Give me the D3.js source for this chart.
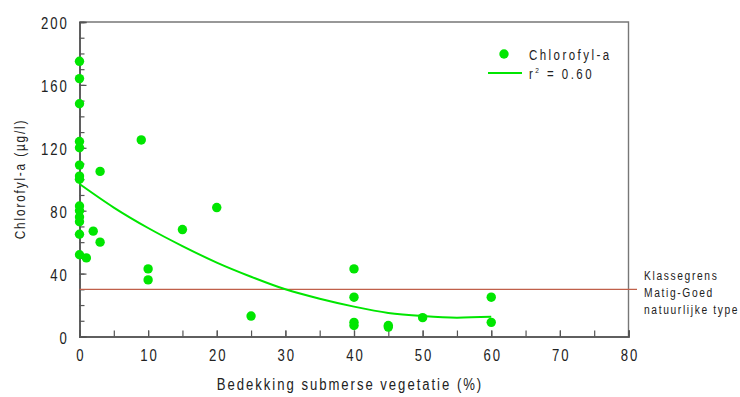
<!DOCTYPE html>
<html>
<head>
<meta charset="utf-8">
<script src="https://cdn.jsdelivr.net/npm/d3@7"></script>
<style>
  html, body { margin: 0; padding: 0; background: #fff; }
  svg { display: block; }
  text { font-family: "Liberation Sans", Arial, sans-serif; fill: #222; }
</style>
</head>
<body>
<svg id="chart" width="740" height="397"></svg>
<script>
// Vegetation cover (%) per lake and measured chlorophyll-a (µg/l)
const coverPct = [0, 0, 0, 0, 0, 0, 0, 0, 0, 0, 0, 0, 0, 0,
                  1, 2, 3, 3, 9, 10, 10, 15, 20, 25,
                  40, 40, 40, 40, 45, 45, 50, 60, 60];
const chlorophyll = [175, 164, 148, 124, 120, 109, 102, 100, 83, 80, 76, 73, 65, 52,
                     50, 67, 105, 60, 125, 43, 36, 68, 82, 13,
                     43, 25, 9, 7, 7, 6, 12, 25, 9];

// Quadratic trend (r² = 0.60), sampled along the fitted curve
const trendX = [0, 5, 10, 15, 20, 25, 30, 35, 40, 45, 50, 55, 60];
const trendY = [97, 82, 69, 57.5, 47, 38, 30, 24, 19, 15, 13, 12, 12.5];

// Class boundary Matig-Goed for this natural type
const boundary = 30;

const xTicksMajor = [0, 10, 20, 30, 40, 50, 60, 70, 80];
const xTicksMinor = [0, 5, 10, 15, 20, 25, 30, 35, 40, 45, 50, 55, 60, 65, 70, 75, 80];
const yTicksMajor = [0, 40, 80, 120, 160, 200];
const yTicksMinor = [0, 10, 20, 30, 40, 50, 60, 70, 80, 90, 100, 110, 120, 130, 140, 150, 160, 170, 180, 190, 200];

const labelLines = ["Klassegrens", "Matig-Goed", "natuurlijke type"];
const legendPoint = "Chlorofyl-a";
const legendR2 = "0.60";

const green = "#00e600";
const axisColor = "#555";
const NARROW = 0.82;   // horizontal squeeze giving a narrow typeface look

const svg = d3.select("#chart");
const m = { left: 79.5, right: 628.5, top: 22, bottom: 336.5 };

const x = d3.scaleLinear().domain([0, 80]).range([m.left, m.right]);
const y = d3.scaleLinear().domain([0, 200]).range([m.bottom, m.top]);

// narrow, letter-spaced text placed at (tx, ty)
function narrowText(parent, tx, ty, str, size, spacing, anchor, rotate) {
  const t = parent.append("text")
    .attr("transform", `translate(${tx},${ty})` + (rotate ? ` rotate(${rotate})` : "") + ` scale(${NARROW},1)`)
    .attr("text-anchor", anchor || "start")
    .style("font-size", size + "px")
    .style("letter-spacing", spacing + "px");
  if (str !== null) t.text(str);
  return t;
}

// frame: top and right edges
svg.append("path")
  .attr("d", `M${m.left},${m.top}H${m.right}V${m.bottom}`)
  .attr("fill", "none").attr("stroke", "#777").attr("stroke-width", 1.4);

// y axis: minor ticks, then labelled major ticks (all pointing inward)
const yMinor = svg.append("g").attr("transform", `translate(${m.left},0)`)
  .call(d3.axisLeft(y).tickValues(yTicksMinor).tickSize(-5).tickFormat(""));
const yMajor = svg.append("g").attr("transform", `translate(${m.left},0)`)
  .call(d3.axisLeft(y).tickValues(yTicksMajor).tickSize(-7).tickPadding(13).tickFormat(d3.format("d")));

// x axis
const xMinor = svg.append("g").attr("transform", `translate(0,${m.bottom})`)
  .call(d3.axisBottom(x).tickValues(xTicksMinor).tickSize(-6).tickFormat(""));
const xMajor = svg.append("g").attr("transform", `translate(0,${m.bottom})`)
  .call(d3.axisBottom(x).tickValues(xTicksMajor).tickSize(-6).tickPadding(13.5).tickFormat(d3.format("d")));

[yMinor, yMajor, xMinor, xMajor].forEach(g => {
  g.select(".domain").attr("stroke", axisColor).attr("stroke-width", 1.5);
  g.selectAll(".tick line").attr("stroke", axisColor).attr("stroke-width", 1.2);
  g.selectAll(".tick text")
    .attr("fill", "#222")
    .attr("transform", `scale(${NARROW},1)`)
    .style("font-size", "16px")
    .style("letter-spacing", "2.4px")
    .style("font-family", "\"Liberation Sans\", Arial, sans-serif");
});
yMajor.selectAll(".tick text").attr("dy", "0.42em").attr("x", -13);
xMajor.selectAll(".tick text").attr("dx", "1.2px");

// boundary line
svg.append("line")
  .attr("x1", x(0)).attr("x2", 637)
  .attr("y1", y(boundary)).attr("y2", y(boundary))
  .attr("stroke", "#c0604a").attr("stroke-width", 1.2);

labelLines.forEach((d, i) => narrowText(svg, 644, 279.5 + i * 17, d, 12.5, 2));

// trend curve
const line = d3.line().x(d => x(d[0])).y(d => y(d[1])).curve(d3.curveMonotoneX);
svg.append("path")
  .datum(trendX.map((v, i) => [v, trendY[i]]))
  .attr("d", line)
  .attr("fill", "none").attr("stroke", green).attr("stroke-width", 2);

// measured points
svg.append("g").selectAll("circle")
  .data(coverPct.map((v, i) => [v, chlorophyll[i]]))
  .join("circle")
  .attr("cx", d => x(d[0])).attr("cy", d => y(d[1]))
  .attr("r", 4.7).attr("fill", green);

// legend
svg.append("circle").attr("cx", 504).attr("cy", 54).attr("r", 4.7).attr("fill", green);
narrowText(svg, 529, 59.5, legendPoint, 14, 3);
svg.append("line").attr("x1", 488).attr("x2", 522).attr("y1", 73).attr("y2", 73)
  .attr("stroke", green).attr("stroke-width", 2);
const r2 = narrowText(svg, 529, 78.5, null, 14, 3);
r2.append("tspan").text("r");
r2.append("tspan").attr("dy", -6).style("font-size", "8px").text("2");
r2.append("tspan").attr("dy", 6).text(" = " + legendR2);

// axis titles
narrowText(svg, 25, 179, "Chlorofyl-a (µg/l)", 14.5, 2.2, "middle", -90);
narrowText(svg, 350, 390, "Bedekking submerse vegetatie (%)", 16, 2.4, "middle");
</script>
</body>
</html>
